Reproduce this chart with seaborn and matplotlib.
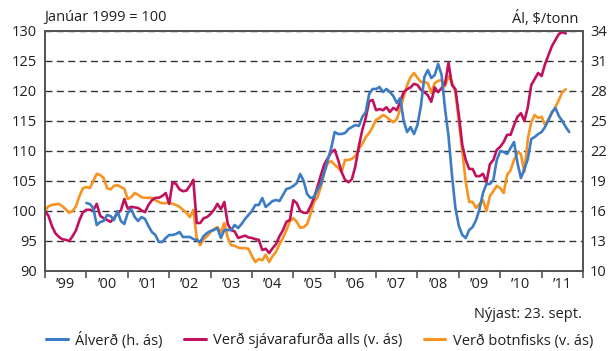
import matplotlib
matplotlib.use("Agg")
import matplotlib.pyplot as plt
import seaborn as sns
import pandas as pd
import numpy as np
from matplotlib.lines import Line2D
from matplotlib.ticker import FixedLocator, NullFormatter, FixedFormatter

# Monthly index values, January 1999 = 100 (left axis)
botnfiskur = [
    100, 100.8, 101, 101.1, 101.2, 100.8, 100.3, 99.7, 100, 100.8, 102.5, 103.8,          # 1999
    104, 103.8, 105, 106.2, 106, 105.5, 103.8, 103.6, 104.2, 104.3, 104, 103.7,           # 2000
    102, 102.3, 103, 102.7, 102.3, 102.2, 102.2, 102.2, 101.8, 101.5, 101.3, 101.3,       # 2001
    101.4, 101.2, 101, 100.7, 100.2, 99.7, 99, 100.2, 95.5, 94.3, 95.3, 95.8,             # 2002
    96.5, 97, 97.3, 96.5, 98, 95.5, 94.3, 94.2, 93.9, 93.8, 93.8, 93.7,                   # 2003
    92.5, 91.5, 92, 91.8, 92.7, 91.5, 92.5, 93.2, 94.5, 95.5, 96.8, 98.3,                 # 2004
    98.8, 98.2, 97.2, 97.3, 97.8, 99.5, 101.5, 102.3, 104, 106.5, 108, 108.3,             # 2005
    107.7, 107.2, 106.5, 108.5, 108.5, 108.7, 109.2, 110.3, 111.2, 112.3, 113, 114,       # 2006
    115.2, 115.5, 116, 115.7, 115.2, 114.8, 115.3, 117, 119, 121, 122.3, 123,             # 2007
    122.2, 121.5, 121.5, 121.3, 119.7, 121.3, 121.7, 121.8, 120.8, 122.5, 121.5, 119.8,   # 2008
    115, 110, 104.8, 101.5, 101.5, 100.5, 101.2, 101.8, 100, 102.5, 103.3, 104.2,         # 2009
    103.8, 103, 106, 106.8, 108.5, 109.8, 109.5, 106.5, 112, 114.8, 116, 115.5,           # 2010
    115.7, 114.3, 115.3, 116.3, 117.3, 118.5, 119.8, 120.3,                               # 2011
]

sjavarafurdir = [
    100, 99.2, 97.5, 96.3, 95.7, 95.3, 95.2, 95, 95.8, 96.8, 98.5, 99.8,                  # 1999
    100.2, 100.2, 100.1, 101.2, 99.2, 98.8, 98.5, 98.2, 98.8, 99.6, 100.1, 102,           # 2000
    100.4, 100.7, 100.6, 100.5, 100.1, 99.8, 101, 101.8, 102.2, 102.2, 102.5, 103,        # 2001
    101.2, 104.8, 104.5, 103.6, 103.3, 103.4, 104.2, 105.2, 98, 98, 98.8, 99,             # 2002
    99.5, 100.2, 101.2, 100.3, 101.5, 97.8, 96.8, 96.6, 95.5, 95.7, 95.9, 95.6,           # 2003
    95.5, 95.3, 95.2, 93.5, 93.7, 93, 93.8, 94.5, 95.8, 96.8, 98.2, 98.5,                 # 2004
    101.8, 101.3, 100, 99.7, 99.7, 100.8, 102.2, 104, 106, 107.8, 108.8, 109.8,           # 2005
    110.2, 108.5, 106.5, 105.2, 104.8, 105.3, 107.5, 110.8, 113.5, 115.5, 118.3, 118.5,   # 2006
    116.8, 117, 116.8, 117.3, 116.5, 117.2, 116.8, 118.2, 119.8, 120.3, 120.6, 121.2,     # 2007
    121, 120.2, 119.8, 119.3, 118.2, 120.6, 119.8, 120.5, 121.2, 124.7, 121, 120.3,       # 2008
    116, 111, 108.5, 107, 107, 105.8, 105.8, 106.2, 104.8, 107.8, 108.5, 110.2,           # 2009
    110.7, 111.5, 112.7, 112.7, 114.3, 115.7, 116.3, 115, 117.3, 121, 122, 123,           # 2010
    122.5, 124.5, 126, 127.5, 128.5, 129.5, 129.8, 129.6,                                 # 2011
]

# Aluminium price, right axis, from January 2000
alverd = [
    16.8, 16.7, 16.3, 14.6, 14.9, 15.0, 15.6, 15.5, 15.1, 16.0, 15.0, 14.7,   # 2000
    15.8, 16.2, 15.4, 15.0, 15.4, 15.2, 14.5, 13.9, 13.6, 12.9, 12.9, 13.3,   # 2001
    13.6, 13.6, 13.7, 13.9, 13.4, 13.4, 13.4, 13.2, 13.1, 12.9, 13.5, 13.8,   # 2002
    14.0, 14.1, 14.3, 13.3, 14.1, 14.1, 14.1, 14.6, 14.3, 14.7, 15.2, 15.6,   # 2003
    16.0, 16.6, 16.6, 17.3, 16.4, 16.7, 17.0, 17.1, 17.0, 17.6, 18.2, 18.3,   # 2004
    18.5, 18.8, 19.7, 19.0, 17.7, 17.3, 17.4, 18.1, 18.7, 19.9, 21.1, 22.3,   # 2005
    23.9, 23.7, 23.7, 23.8, 24.2, 24.4, 24.6, 24.5, 25.4, 25.9, 27.7, 28.2,   # 2006
    28.2, 28.4, 27.9, 28.2, 27.9, 27.5, 26.8, 27.3, 25.0, 23.9, 24.4, 23.7,   # 2007
    24.6, 26.5, 29.4, 30.1, 29.3, 29.6, 30.7, 29.6, 26.2, 23.5, 19.6, 16.3,   # 2008
    14.5, 13.6, 13.3, 14.1, 14.4, 15.1, 16.2, 17.8, 18.7, 18.7, 19.1, 21.1,   # 2009
    22.0, 21.9, 21.7, 22.3, 22.9, 20.8, 19.3, 20.2, 21.2, 23.2, 23.4, 23.7,   # 2010
    23.9, 24.4, 25.1, 25.9, 26.3, 25.5, 25.0, 24.4, 23.9,                     # 2011
]

ar_labels = ["’99", "’00", "’01", "’02", "’03", "’04", "’05", "’06", "’07", "’08", "’09", "’10", "’11"]
left_ticks = [90, 95, 100, 105, 110, 115, 120, 125, 130]
right_ticks = [10, 13, 16, 19, 22, 25, 28, 31, 34]

BLUE = "#3b7cc4"
RED = "#c1115e"
ORANGE = "#f7931e"
TXT = "#231f20"
FRAME = "#555555"
FS = 10.5

sns.set_theme(style="white")
plt.rcParams["font.family"] = ["Open Sans", "DejaVu Sans"]
plt.rcParams["font.size"] = FS

sea = pd.DataFrame({"ar": 1999 + np.arange(len(sjavarafurdir)) / 12,
                    "botnfiskur": botnfiskur, "sjavarafurdir": sjavarafurdir})
al = pd.DataFrame({"ar": 2000 + np.arange(len(alverd)) / 12, "alverd": alverd})

W, H = 608, 351
fig = plt.figure(figsize=(W / 100, H / 100), dpi=100)
ax = fig.add_axes([45 / W, 1 - 271 / H, 538 / W, 240 / H])
ax2 = ax.twinx()

lw = 1.9
sns.lineplot(data=sea, x="ar", y="botnfiskur", ax=ax, color=ORANGE, lw=lw, zorder=3)
sns.lineplot(data=sea, x="ar", y="sjavarafurdir", ax=ax, color=RED, lw=lw, zorder=4)
sns.lineplot(data=al, x="ar", y="alverd", ax=ax2, color=BLUE, lw=lw, zorder=3)

ax.set_xlim(1999, 2012)
ax.set_ylim(90, 130)
ax2.set_ylim(10, 34)
ax.set_yticks(left_ticks)
ax2.set_yticks(right_ticks)
ax.set_yticklabels([str(v) for v in left_ticks])
ax2.set_yticklabels([str(v) for v in right_ticks])
ax.set_xlabel("")
ax.set_ylabel("")
ax2.set_ylabel("")

years = list(range(1999, 2013))
ax.xaxis.set_major_locator(FixedLocator(years))
ax.xaxis.set_major_formatter(NullFormatter())
ax.xaxis.set_minor_locator(FixedLocator([y + 0.5 for y in years[:-1]]))
ax.xaxis.set_minor_formatter(FixedFormatter(ar_labels))
ax.tick_params(axis="x", which="major", length=5, width=1.2, color=FRAME, direction="out", bottom=True)
ax.tick_params(axis="x", which="minor", length=0, pad=4, labelsize=FS, colors=TXT, bottom=True)
ax.tick_params(axis="y", length=0, pad=6, labelsize=FS, colors=TXT)
ax2.tick_params(axis="y", length=0, pad=5, labelsize=FS, colors=TXT)

ax.yaxis.grid(True, linestyle=(0, (5, 3.2)), color="#333333", lw=1.0)
ax.xaxis.grid(False)
ax2.grid(False)
for a in (ax, ax2):
    for s in a.spines.values():
        s.set_color(FRAME)
        s.set_linewidth(1.3)
        s.set_visible(True)

fig.text(44 / W, 1 - 17 / H, "Janúar 1999 = 100", ha="left", va="center", fontsize=FS, color=TXT)
fig.text(578 / W, 1 - 19 / H, "Ál, $/tonn", ha="right", va="center", fontsize=FS, color=TXT)
fig.text(582 / W, 1 - 315 / H, "Nýjast: 23. sept.", ha="right", va="center", fontsize=FS, color=TXT)

handles = [Line2D([], [], color=BLUE, lw=2.2),
           Line2D([], [], color=RED, lw=2.2),
           Line2D([], [], color=ORANGE, lw=2.2)]
labels = ["Álverð (h. ás)", "Verð sjávarafurða alls (v. ás)", "Verð botnfisks (v. ás)"]
fig.legend(handles, labels, loc="center left", bbox_to_anchor=(46 / W, 1 - 340 / H),
           ncol=3, frameon=False, fontsize=FS, handlelength=1.5, handletextpad=0.5,
           columnspacing=1.45, borderpad=0, borderaxespad=0, labelcolor=TXT)

fig.savefig("out.png", dpi=100)
